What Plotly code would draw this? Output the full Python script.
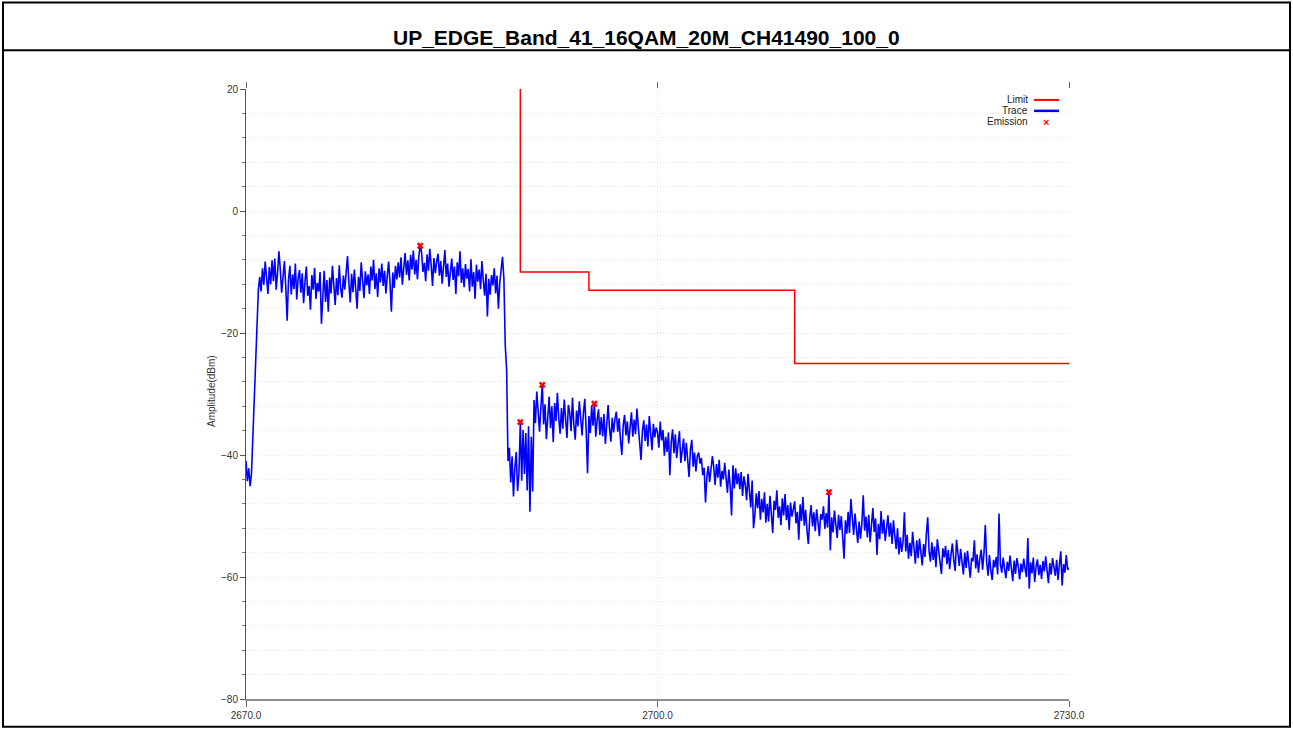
import numpy as np
import plotly.graph_objects as go

# ---- sweep definition (MHz) ----
freq_start = 2670.0
freq_step = 0.1

# ---- measured trace, dBm, one row per MHz (10 sweep points each) ----
trace_dbm = [
    # 2670
    -41.0, -44.3, -42.2, -45.1, -43.0, -37.0, -31.0, -25.0, -18.0, -13.0,
    # 2671
    -10.8, -13.2, -9.4, -12.1, -8.3, -11.6, -13.6, -9.2, -12.0, -8.1,
    # 2672
    -11.5, -7.8, -12.9, -10.1, -6.6, -9.5, -13.4, -10.8, -8.2, -12.4,
    # 2673
    -18.0, -11.2, -9.0, -13.7, -10.4, -12.8, -8.6, -14.5, -11.1, -9.7,
    # 2674
    -13.4, -10.2, -15.1, -11.6, -9.1, -13.9, -12.3, -16.2, -10.5, -12.9,
    # 2675
    -9.3, -14.4, -11.8, -13.2, -10.0, -18.5, -12.6, -9.8, -14.9, -11.3,
    # 2676
    -16.5, -10.9, -13.5, -9.0, -12.1, -15.4, -11.0, -13.8, -8.9, -12.7,
    # 2677
    -14.2, -10.6, -12.9, -9.5, -7.4, -11.8, -15.0, -10.3, -13.3, -9.6,
    # 2678
    -12.5, -16.0, -10.8, -13.1, -8.4, -11.9, -14.3, -9.9, -12.2, -10.4,
    # 2679
    -13.6, -9.1, -11.4, -8.0, -12.8, -10.2, -14.1, -9.4, -11.7, -8.6,
    # 2680
    -12.3, -9.8, -13.5, -10.6, -8.3, -11.9, -16.5, -10.1, -12.6, -9.0,
    # 2681
    -11.2, -8.4, -10.9, -7.6, -12.1, -9.3, -6.9, -10.5, -8.1, -11.4,
    # 2682
    -7.2, -9.6, -6.5, -10.4, -8.0, -11.2, -7.4, -5.7, -6.8, -10.0,
    # 2683
    -8.5, -11.5, -7.1, -9.8, -6.2, -8.9, -12.3, -7.7, -10.2, -8.3,
    # 2684
    -7.0, -10.6, -8.2, -11.9, -9.0, -6.4, -10.8, -8.6, -12.4, -9.5,
    # 2685
    -7.8, -11.3, -9.1, -13.6, -8.4, -10.7, -6.6, -11.8, -9.4, -12.5,
    # 2686
    -8.7, -11.1, -9.5, -13.2, -7.9, -12.4, -10.0, -14.4, -8.8, -11.6,
    # 2687
    -9.6, -12.8, -8.2, -11.4, -13.9, -10.3, -17.3, -11.1, -13.7, -10.5,
    # 2688
    -12.2, -9.4, -13.5, -10.6, -16.0, -11.8, -9.3, -7.5, -11.0, -22.0,
    # 2689
    -26.0, -41.0, -38.8, -44.5, -40.2, -46.8, -42.1, -39.5, -45.9, -43.0,
    # 2690
    -34.6, -44.2, -35.9, -43.1, -36.4, -45.8, -35.3, -49.3, -37.0, -46.0,
    # 2691
    -31.0, -34.8, -29.6, -33.5, -36.2, -32.1, -28.5, -35.0, -31.7, -37.4,
    # 2692
    -33.2, -30.4, -35.6, -32.0, -37.9, -31.5, -34.4, -29.8, -33.9, -36.5,
    # 2693
    -32.3, -35.7, -30.9, -34.6, -37.2, -31.8, -33.0, -36.1, -30.6, -34.9,
    # 2694
    -37.5, -32.7, -35.3, -31.2, -34.0, -36.8, -33.1, -30.8, -35.9, -43.0,
    # 2695
    -33.6, -36.4, -31.9, -35.2, -31.6, -37.0, -34.2, -32.5, -36.7, -33.8,
    # 2696
    -36.9, -33.3, -38.2, -34.7, -31.8, -35.6, -37.8, -33.9, -36.3, -34.1,
    # 2697
    -32.9, -36.2, -34.0, -37.5, -40.0, -35.1, -33.4, -36.8, -34.5, -38.1,
    # 2698
    -35.8, -33.0, -37.0, -34.2, -36.6, -32.4, -35.3, -38.4, -40.8, -36.0,
    # 2699
    -34.3, -37.7, -35.0, -38.6, -33.6, -36.4, -39.2, -34.9, -37.1, -35.5,
    # 2700
    -36.2, -38.8, -34.5, -37.6, -35.9, -40.1, -37.0, -39.5, -36.3, -43.3,
    # 2701
    -37.9, -35.8, -39.7, -36.6, -40.5, -38.2, -36.1, -41.3, -38.9, -37.3,
    # 2702
    -41.0, -38.0, -40.8, -43.6, -39.1, -37.5, -41.9, -39.6, -42.7, -40.2,
    # 2703
    -39.6, -41.4, -40.5, -43.3, -42.1, -47.8, -43.5, -41.8, -44.4, -42.0,
    # 2704
    -40.2, -42.0, -44.9, -41.5, -43.7, -40.8, -45.2, -42.6, -44.0, -41.3,
    # 2705
    -43.9, -46.2, -42.4, -45.1, -49.9, -41.7, -45.5, -42.2, -44.8, -43.0,
    # 2706
    -45.6, -42.8, -46.7, -43.5, -44.9, -47.4, -43.1, -45.8, -48.6, -44.2,
    # 2707
    -52.0, -49.8, -46.3, -48.7, -45.9, -50.6, -47.2, -49.4, -46.1, -51.1,
    # 2708
    -48.0, -50.9, -46.7, -49.6, -52.8, -47.5, -49.0, -45.8, -50.3, -48.4,
    # 2709
    -51.5, -47.1, -49.9, -46.4, -50.7, -48.2, -52.3, -47.8, -50.1, -48.9,
    # 2710
    -47.6, -51.2, -49.3, -53.9, -48.1, -50.8, -46.9, -51.6, -49.0, -52.4,
    # 2711
    -54.6, -50.3, -48.2, -51.7, -49.4, -52.5, -48.9, -51.0, -53.3, -49.7,
    # 2712
    -50.6, -48.4, -52.1, -49.5, -51.9, -46.1, -55.6, -50.2, -52.7, -49.1,
    # 2713
    -51.4, -53.6, -49.8, -52.3, -50.0, -54.2, -57.0, -50.7, -52.9, -49.3,
    # 2714
    -52.8, -47.2, -50.5, -53.1, -49.6, -52.0, -54.4, -50.9, -53.7, -51.2,
    # 2715
    -46.6, -52.4, -50.1, -53.5, -49.8, -54.3, -51.5, -48.7, -52.6, -50.4,
    # 2716
    -56.4, -51.3, -53.8, -49.2, -52.9, -50.6, -54.1, -51.8, -49.9, -53.4,
    # 2717
    -51.1, -54.6, -50.7, -53.2, -55.4, -52.0, -56.3, -53.5, -55.9, -54.2,
    # 2718
    -49.4, -55.8, -53.1, -57.0, -54.4, -56.6, -52.6, -55.2, -57.8, -54.0,
    # 2719
    -56.9, -53.7, -55.5, -58.1, -54.6, -56.7, -52.9, -50.2, -55.8, -57.5,
    # 2720
    -54.3, -57.2, -55.0, -58.4, -53.8, -56.1, -57.6, -59.5, -55.3, -56.8,
    # 2721
    -54.9, -57.9, -55.6, -58.7, -56.2, -54.5, -57.3, -59.0, -53.9, -56.6,
    # 2722
    -58.2, -55.4, -57.7, -59.6, -56.0, -58.5, -55.7, -57.9, -60.1, -56.9,
    # 2723
    -57.4, -54.0, -58.6, -56.3, -59.3, -57.0, -55.5, -58.8, -56.1, -51.5,
    # 2724
    -57.6, -59.8, -56.4, -58.9, -60.5, -57.2, -58.4, -56.7, -59.6, -49.6,
    # 2725
    -57.9, -59.3, -56.8, -58.6, -60.2, -57.5, -59.0, -56.5, -58.8, -60.7,
    # 2726
    -57.3, -59.5, -56.9, -58.2, -60.4, -57.8, -59.2, -57.0, -58.7, -60.0,
    # 2727
    -53.6, -61.9, -57.6, -59.4, -56.8, -60.8, -58.3, -57.1, -59.7, -58.0,
    # 2728
    -60.3, -57.4, -59.1, -56.6, -58.9, -61.0, -57.7, -59.6, -56.9, -58.5,
    # 2729
    -59.8, -57.2, -60.5, -58.0, -55.8, -61.4, -57.9, -59.3, -56.4, -58.8,
    # 2730
    -58.5,
]

# ---- spectrum emission limit mask ----
limit_mhz = [2690.0, 2690.0, 2695.0, 2695.0, 2710.0, 2710.0, 2730.0]
limit_dbm = [20.0, -10.0, -10.0, -13.0, -13.0, -25.0, -25.0]

# ---- worst-case emission points ----
emission_mhz = [2682.7, 2690.0, 2691.6, 2695.4, 2712.5]
emission_dbm = [-5.7, -34.6, -28.5, -31.6, -46.1]

# ---- axis ticks ----
x_ticks = [2670.0, 2700.0, 2730.0]
y_ticks = [-80, -60, -40, -20, 0, 20]

title_text = "UP_EDGE_Band_41_16QAM_20M_CH41490_100_0"

trace_mhz = np.round(freq_start + freq_step * np.arange(len(trace_dbm)), 1)

W, H = 1293, 733
L, R, T, B = 246, 224, 89, 30
pw, ph = W - L - R, H - T - B


def px(xp):
    return (xp - L) / pw


def py(yp):
    return (H - B - yp) / ph


FONT = "Liberation Sans, Arial, sans-serif"

fig = go.Figure()
fig.add_trace(go.Scatter(x=trace_mhz, y=trace_dbm, mode="lines",
                         line=dict(color="#0000ff", width=1.6), name="Trace",
                         showlegend=False))
fig.add_trace(go.Scatter(x=limit_mhz, y=limit_dbm, mode="lines",
                         line=dict(color="#ff0000", width=1.5), name="Limit",
                         showlegend=False))
fig.add_trace(go.Scatter(x=emission_mhz, y=emission_dbm, mode="markers",
                         marker=dict(symbol="x", size=6, color="#ff0000",
                                     line=dict(width=0)),
                         name="Emission", showlegend=False))
# top tick marks
fig.add_trace(go.Scatter(x=[2670, 2730], y=[None, None], xaxis="x2",
                         showlegend=False, hoverinfo="skip"))

grid = "#e2e2e2"
gdash = "1px,2px"
fig.update_layout(
    width=W, height=H,
    margin=dict(l=L, r=R, t=T, b=B, pad=0),
    paper_bgcolor="white", plot_bgcolor="white",
    font=dict(family=FONT, size=10, color="#333333"),
    showlegend=False,
    xaxis=dict(range=[2670, 2730], tickvals=x_ticks,
               ticktext=[f"{v:.1f}" for v in x_ticks],
               showline=True, linecolor="#8c8c8c", linewidth=2,
               ticks="outside", ticklen=6, tickcolor="#666666", tickwidth=1,
               showgrid=True, gridcolor=grid, griddash=gdash, gridwidth=1,
               zeroline=False, tickfont=dict(size=10, color="#333333")),
    xaxis2=dict(range=[2670, 2730], overlaying="x", side="top",
                tickvals=x_ticks, showticklabels=False, showline=False,
                ticks="outside", ticklen=6, tickcolor="#666666",
                showgrid=False, zeroline=False),
    yaxis=dict(range=[-80, 20], tickvals=y_ticks,
               showline=True, linecolor="#555555", linewidth=1,
               ticks="outside", ticklen=5, tickcolor="#555555",
               showgrid=True, gridcolor=grid, griddash=gdash, gridwidth=1,
               zeroline=False, tickfont=dict(size=10, color="#333333"),
               minor=dict(dtick=4, tick0=0, ticks="outside", ticklen=3,
                          tickcolor="#777777", showgrid=True,
                          gridcolor=grid, griddash=gdash, gridwidth=1)),
)

# frame around the chart and title band
frame = dict(color="black", width=2)
fig.add_shape(type="rect", xref="paper", yref="paper",
              x0=px(3), x1=px(1290), y0=py(731), y1=py(2), line=frame)
fig.add_shape(type="line", xref="paper", yref="paper",
              x0=px(3), x1=px(1290), y0=py(50), y1=py(50), line=frame)

fig.add_annotation(text=f"<b>{title_text}</b>", xref="paper", yref="paper",
                   x=px(646.5), y=py(37), xanchor="center", yanchor="middle",
                   showarrow=False, font=dict(family=FONT, size=21, color="black"))

fig.add_annotation(text="Amplitude(dBm)", xref="paper", yref="paper",
                   x=px(211), y=py(393), textangle=-90, showarrow=False,
                   xanchor="center", yanchor="middle",
                   font=dict(family=FONT, size=10, color="#333333"))

# legend block, top right
legend_rows = [("Limit", 100, "#ff0000"), ("Trace", 111, "#0000ff"), ("Emission", 122, None)]
for label, ypix, col in legend_rows:
    fig.add_annotation(text=label, xref="paper", yref="paper", x=px(1030), y=py(ypix),
                       xanchor="right", yanchor="middle", showarrow=False,
                       font=dict(family=FONT, size=10, color="#222222"))
    if col:
        fig.add_shape(type="line", xref="paper", yref="paper",
                      x0=px(1034), x1=px(1059), y0=py(ypix), y1=py(ypix),
                      line=dict(color=col, width=2 if col == "#ff0000" else 2.5))
    else:
        fig.add_annotation(text="<b>×</b>", xref="paper", yref="paper",
                           x=px(1046), y=py(ypix), xanchor="center", yanchor="middle",
                           showarrow=False, font=dict(family=FONT, size=11, color="#ff0000"))

fig.write_html("out.html")
